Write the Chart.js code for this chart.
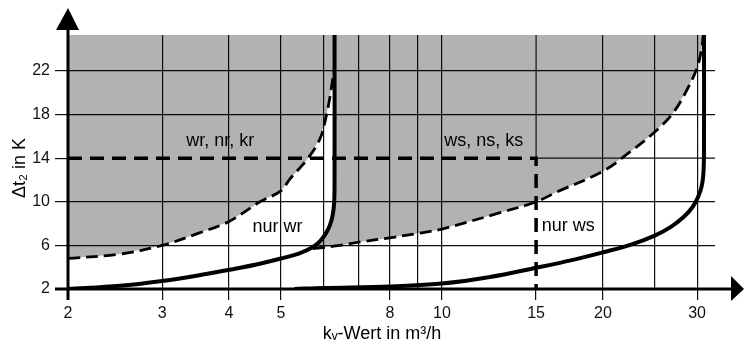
<!DOCTYPE html>
<html>
<head>
<meta charset="utf-8">
<script src="https://cdn.jsdelivr.net/npm/chart.js@4.4.1/dist/chart.umd.min.js"></script>
<style>
  html, body { margin: 0; padding: 0; background: #fff; }
  #wrap { width: 744px; height: 346px; }
</style>
</head>
<body>
<div id="wrap"><canvas id="kv" width="744" height="346"></canvas></div>
<script>
// Achsen
const xTicks = [2, 3, 4, 5, 6, 7, 8, 9, 10, 15, 20, 25, 30];
const xLabels = [2, 3, 4, 5, 8, 10, 15, 20, 30];
const yTicks = [2, 6, 10, 14, 18, 22];
const xMin = 2, xMax = 32.4, yMin = 2, yMax = 25.3;

// Grenzlinie wr, nr, kr (gestrichelt)
const grenzeRX = [2, 2.5, 3, 3.5, 4, 4.57, 5, 5.2, 5.6, 5.92, 6.08, 6.2, 6.28];
const grenzeRY = [4.8, 5.2, 6.0, 7.1, 8.2, 10.0, 11.0, 12.1, 13.9, 15.8, 17.9, 20.1, 22.0];

// Kurve nur wr (dick)
const kurveRX = [2, 2.5, 3, 3.5, 4, 4.5, 5, 5.4, 5.72, 5.92, 6.07, 6.18, 6.25, 6.29, 6.3, 6.3];
const kurveRY = [2.0, 2.3, 2.74, 3.24, 3.76, 4.25, 4.8, 5.25, 5.8, 6.4, 7.1, 7.9, 8.8, 10.0, 12.0, 25.3];

// Grenzlinie ws, ns, ks (gestrichelt)
const grenzeSX = [5.74, 6.44, 7, 8, 9, 10, 12.84, 15, 16.4, 20, 22.5, 25, 27, 28.6, 30, 30.6, 30.8];
const grenzeSY = [5.7, 6.0, 6.3, 6.7, 7.1, 7.5, 9.0, 10.0, 10.9, 12.8, 14.6, 16.4, 18.1, 20.1, 22.3, 24.1, 25.3];

// Kurve nur ws (dick)
const kurveSX = [5.3, 6, 8, 10, 12.3, 15, 17.5, 20, 22.5, 25, 26.8, 28.3, 29.4, 30.1, 30.55, 30.8, 30.9, 30.9];
const kurveSY = [2.0, 2.1, 2.23, 2.5, 3.1, 3.95, 4.65, 5.36, 6.05, 6.9, 7.7, 8.6, 9.5, 10.4, 11.3, 12.4, 14.5, 25.3];

// Hilfslinie bei 14 K / 15 m3/h
const hilfX = [2, 15, 15];
const hilfY = [14, 14, 2];

// Beschriftungen
const textLabels = ['wr, nr, kr', 'ws, ns, ks', 'nur wr', 'nur ws'];
const textX = [3.85, 11.98, 4.93, 17.23];
const textY = [15.56, 15.56, 7.68, 7.75];

const pts = (xs, ys) => xs.map((v, i) => ({ x: v, y: ys[i] }));

// graue Flaeche
const flaeche = [{ x: xMin, y: yMax }]
  .concat(pts(grenzeRX, grenzeRY))
  .concat(pts(kurveRX, kurveRY).filter(p => p.y >= 5.7 && p.y <= 22).reverse())
  .concat(pts(grenzeSX, grenzeSY));

const FONT = '"Liberation Sans", Arial, sans-serif';

const deko = {
  id: 'deko',
  afterDatasetsDraw(chart) {
    const { ctx, chartArea: a, scales: { x, y } } = chart;
    ctx.save();
    ctx.fillStyle = '#000';
    ctx.strokeStyle = '#000';
    ctx.lineWidth = 3;
    // y-Achse mit Pfeil
    ctx.beginPath(); ctx.moveTo(a.left, a.bottom + 11); ctx.lineTo(a.left, 30); ctx.stroke();
    ctx.beginPath(); ctx.moveTo(a.left, 8); ctx.lineTo(a.left - 12, 30); ctx.lineTo(a.left + 11, 30); ctx.closePath(); ctx.fill();
    // x-Achse mit Pfeil
    ctx.beginPath(); ctx.moveTo(a.left - 13, a.bottom); ctx.lineTo(733, a.bottom); ctx.stroke();
    ctx.beginPath(); ctx.moveTo(744, a.bottom); ctx.lineTo(731, a.bottom - 13); ctx.lineTo(731, a.bottom + 12); ctx.closePath(); ctx.fill();

    ctx.textAlign = 'center';
    ctx.textBaseline = 'middle';
    ctx.font = '18px ' + FONT;
    textLabels.forEach((t, i) => ctx.fillText(t, x.getPixelForValue(textX[i]), y.getPixelForValue(textY[i])));

    ctx.fillText('k\u1D65-Wert in m\u00B3/h', 382, 334);
    ctx.translate(20, 168);
    ctx.rotate(-Math.PI / 2);
    ctx.fillText('\u0394t\u2082 in K', 0, 0);
    ctx.restore();
  }
};

const linie = (data, width, dash) => ({
  data: data,
  borderColor: '#000',
  borderWidth: width,
  borderDash: dash,
  pointRadius: 0,
  fill: false,
  tension: 0.35,
  order: 1
});

const gitter = data => Object.assign(linie(data, 1.2, []), { borderColor: '#111', tension: 0, order: 3 });

new Chart(document.querySelector('#kv'), {
  type: 'line',
  data: {
    datasets: [
      linie(pts(kurveRX, kurveRY), 4, []),
      linie(pts(kurveSX, kurveSY), 4, []),
      linie(pts(grenzeRX, grenzeRY), 2.8, [12, 6]),
      linie(pts(grenzeSX, grenzeSY), 2.8, [12, 6]),
      Object.assign(linie(pts(hilfX, hilfY), 3.5, [14, 8]), { tension: 0 }),
      // Gitterlinien 14 / 15 nur ausserhalb der Hilfslinie
      gitter([{ x: hilfX[1], y: hilfY[1] }, { x: xMax, y: hilfY[1] }]),
      gitter([{ x: hilfX[1], y: hilfY[1] }, { x: hilfX[1], y: yMax }]),
      {
        data: flaeche,
        backgroundColor: 'rgba(0,0,0,0.3)',
        borderWidth: 0,
        pointRadius: 0,
        fill: 'shape',
        tension: 0,
        order: 5
      }
    ]
  },
  options: {
    responsive: false,
    animation: false,
    layout: { padding: { top: 35, right: 29, left: 0, bottom: 0 } },
    plugins: { legend: { display: false }, tooltip: { enabled: false } },
    scales: {
      x: {
        type: 'logarithmic',
        min: xMin,
        max: xMax,
        afterBuildTicks: s => { s.ticks = xTicks.map(v => ({ value: v })); },
        afterFit: s => { s.height = 57; },
        border: { display: false },
        grid: {
          color: c => (c.tick && c.tick.value === 15) ? 'rgba(0,0,0,0)' : '#111',
          lineWidth: 1.2,
          tickLength: 11,
          tickColor: c => xLabels.includes(c.tick && c.tick.value) ? '#111' : 'rgba(0,0,0,0)'
        },
        ticks: {
          autoSkip: false,
          maxRotation: 0,
          padding: 4,
          color: '#111',
          font: { family: FONT, size: 16 },
          callback: v => xLabels.includes(v) ? String(v) : ''
        }
      },
      y: {
        min: yMin,
        max: yMax,
        afterBuildTicks: s => { s.ticks = yTicks.map(v => ({ value: v })); },
        afterFit: s => { s.width = 68; },
        border: { display: false },
        grid: {
          color: c => (c.tick && c.tick.value === 14) ? 'rgba(0,0,0,0)' : '#111',
          tickColor: '#111',
          lineWidth: 1.2,
          tickLength: 13
        },
        ticks: {
          padding: 5,
          color: '#111',
          font: { family: FONT, size: 16 }
        }
      }
    }
  },
  plugins: [deko]
});
</script>
</body>
</html>
